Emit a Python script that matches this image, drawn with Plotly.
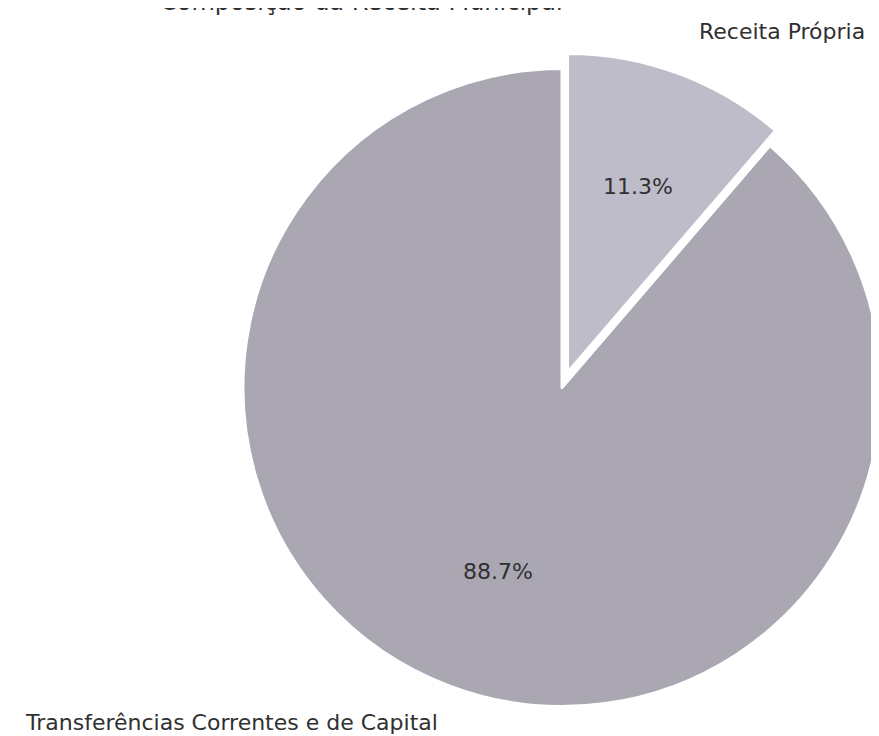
import math
import plotly.graph_objects as go

# receita do município
labels = ["Receita Própria", "Transferências Correntes e de Capital"]
shares = [11.3, 88.7]
slice_colors = ["#bebcc8", "#aaa7b3"]

W, H = 879, 736
cx, cy, r = 554, 379.5, 319  # pie centre / radius in px
explode = 0.05

total = sum(shares)
mid = math.radians(360 * shares[0] / total / 2)
off = explode * r
dx, dy = off * math.sin(mid), -off * math.cos(mid)


def domain(x0, y0, rad):
    return dict(x=[max(0, (x0 - rad) / W), min(1, (x0 + rad) / W)],
                y=[max(0, 1 - (y0 + rad) / H), min(1, 1 - (y0 - rad) / H)])


clear = "rgba(0,0,0,0)"

fig = go.Figure()
# big slice (not exploded)
fig.add_trace(go.Pie(
    labels=labels, values=shares, sort=False, direction="clockwise", rotation=0,
    domain=domain(cx, cy, r), textinfo="none", showlegend=False,
    marker=dict(colors=[clear, slice_colors[1]],
                line=dict(color="white", width=[0, 3])),
))
# small slice, pulled out along its bisector
fig.add_trace(go.Pie(
    labels=labels, values=shares, sort=False, direction="clockwise", rotation=0,
    domain=domain(cx + dx, cy + dy, r), textinfo="none", showlegend=False,
    marker=dict(colors=[slice_colors[0], clear],
                line=dict(color="white", width=[3, 0])),
))

font = dict(family="DejaVu Sans", size=22, color="#303030")


def px(x, y):
    return x / W, 1 - y / H


anns = [
    (labels[0], 689, 23, "left"),
    (labels[1], 432, 714, "right"),
    (f"{shares[0]:.1f}%", 630, 178, "center"),
    (f"{shares[1]:.1f}%", 490, 563, "center"),
]
for text, x, y, anchor in anns:
    ax, ay = px(x, y)
    fig.add_annotation(text=text, x=ax, y=ay, xref="paper", yref="paper",
                       xanchor=anchor, yanchor="middle", showarrow=False, font=font)

# title, cut off at the top like in the scan
tx, ty = px(150, 10)
fig.add_annotation(text="Composição da Receita Municipal", x=tx, y=ty,
                   xref="paper", yref="paper", xanchor="left", yanchor="bottom",
                   showarrow=False, font=dict(family="DejaVu Sans", size=24, color="#303030"))

fig.update_layout(
    width=W, height=H,
    margin=dict(l=0, r=0, t=0, b=0),
    paper_bgcolor="white", plot_bgcolor="white",
)

fig.write_html("out.html")
